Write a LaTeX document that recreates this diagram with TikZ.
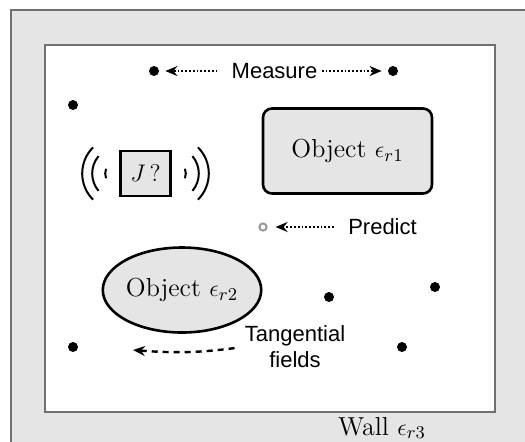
\documentclass[tikz,border=0pt]{standalone}
\usepackage{amsmath,amssymb}
\usepackage{fontspec}
\newfontfamily\labelsf{Liberation Sans}
\usetikzlibrary{shapes.geometric,arrows.meta,positioning}
\definecolor{wallgray}{HTML}{707070}
\definecolor{shadegray}{HTML}{E5E5E5}

\begin{document}
\begin{tikzpicture}[x=0.5pt, y=-0.5pt, >={Stealth[length=6pt,width=5pt]},
  probe/.style={circle, fill=black, inner sep=0pt, minimum size=5pt},
  probeopen/.style={circle, draw=black!40, line width=1pt, fill=white, inner sep=0pt, minimum size=3.6pt},
  note/.style={font=\labelsf\fontsize{11}{13}\selectfont, inner sep=1pt},
  objlabel/.style={font=\fontsize{13}{15}\selectfont},
  measline/.style={->, line width=0.9pt, dash pattern=on 0.9pt off 1pt},
  wave/.style={line width=1pt}]

  \useasboundingbox (0,0) rectangle (525,441);
  \clip (0,0) rectangle (525,441);
  \fill[white] (0,0) rectangle (525,441);

  % ── Wall and room ─────────────────────────────────────────────────────
  \draw[wallgray, line width=1.3pt, fill=shadegray] (11,10) rectangle (560,480);
  \draw[wallgray, line width=1.3pt, fill=white] (45,45) rectangle (495,412);
  \node[objlabel] (wall) at (382,428) {Wall $\epsilon_{r3}$};

  % ── Measurement probes ────────────────────────────────────────────────
  \node[probe] (mL) at (154,71) {};
  \node[probe] (mR) at (393,71) {};
  \node[note] (meas) at (274.5,71) {Measure};
  \draw[measline, shorten <=6pt, shorten >=3pt] (meas) -- (mL);
  \draw[measline, shorten <=1pt, shorten >=3pt] (meas) -- (mR);

  \node[probe] (p1) at (73,105) {};
  \node[probe] (p2) at (329,297) {};
  \node[probe] (p3) at (435,287) {};
  \node[probe] (p4) at (73,347) {};
  \node[probe] (p5) at (402,347) {};

  % ── Source with unknown current ───────────────────────────────────────
  \node[draw, line width=1.3pt, fill=shadegray, minimum width=25pt, minimum height=22.5pt,
        inner sep=0pt, objlabel] (jbox) at (145.5,173.5) {$J\,?$};
  \draw[wave] ([shift={(160:7pt)}]jbox.west) arc (160:200:7pt);
  \draw[wave] ([shift={(140:13.5pt)}]jbox.west) arc (140:220:13.5pt);
  \draw[wave] ([shift={(135:18.5pt)}]jbox.west) arc (135:225:18.5pt);
  \draw[wave] ([shift={(-20:7pt)}]jbox.east) arc (-20:20:7pt);
  \draw[wave] ([shift={(-40:13.5pt)}]jbox.east) arc (-40:40:13.5pt);
  \draw[wave] ([shift={(-45:18.5pt)}]jbox.east) arc (-45:45:18.5pt);

  % ── Objects ───────────────────────────────────────────────────────────
  \node[draw, line width=1.3pt, fill=shadegray, rounded corners=4.5pt, minimum width=84.5pt,
        minimum height=42.5pt, objlabel] (obj1) at (347.5,151) {Object $\epsilon_{r1}$};
  \node[ellipse, draw, line width=1.3pt, fill=shadegray, inner sep=0pt, minimum width=78pt,
        minimum height=42.5pt, objlabel] (obj2) at (182,290) {Object $\epsilon_{r2}$};

  % ── Prediction point ──────────────────────────────────────────────────
  \node[probeopen] (pr) at (263,227) {};
  \node[note] (pred) at (382.5,227) {Predict};
  \draw[measline, shorten <=6pt, shorten >=4pt] (pred) -- (pr);

  % ── Tangential fields ─────────────────────────────────────────────────
  \node[note, align=center] (tang) at (295,347) {Tangential\\fields};
  \coordinate (tangend) at (133,350);
  \draw[->, line width=1.2pt, dash pattern=on 3pt off 2.5pt, shorten <=4pt]
    (tang.west) to[bend left=6] (tangend);

\end{tikzpicture}
\end{document}
